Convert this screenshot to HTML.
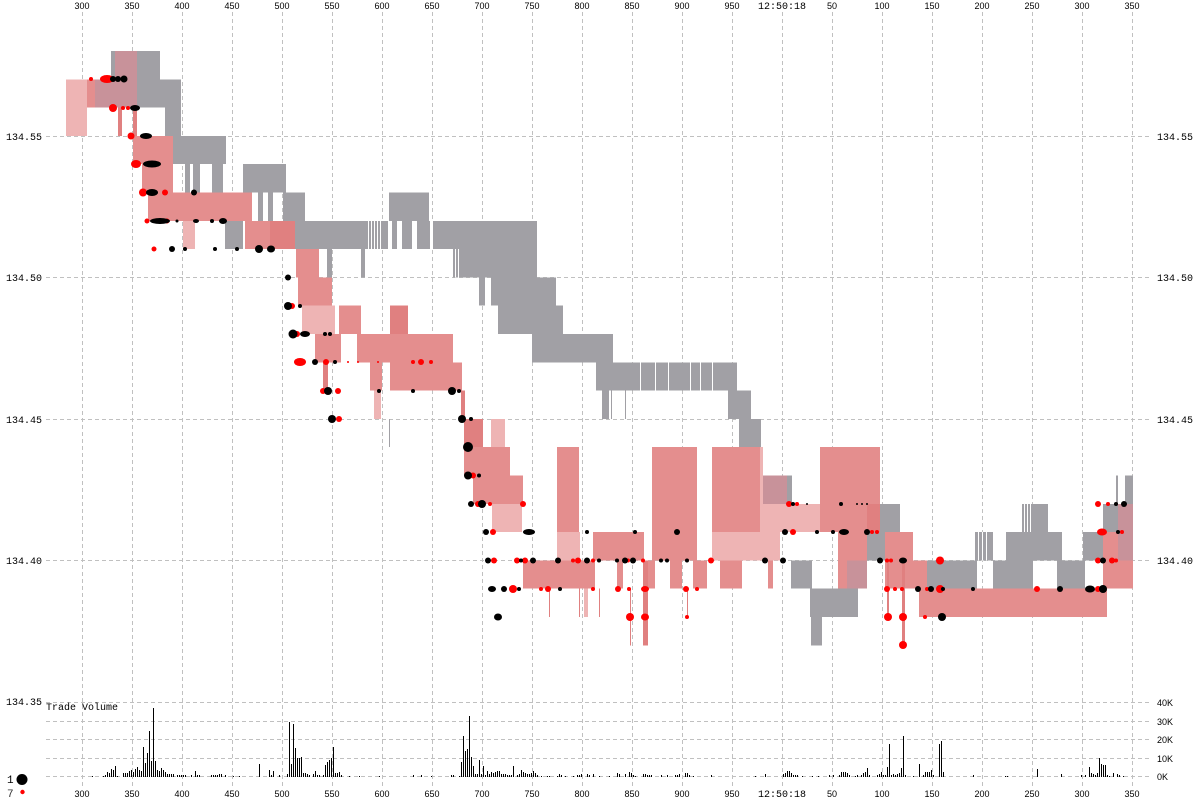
<!DOCTYPE html>
<html><head><meta charset="utf-8"><style>
html,body{margin:0;padding:0;background:#fff;}
svg{display:block;}
.t{font-family:"Liberation Sans",sans-serif;font-size:9px;fill:#000;}
.m{font-family:"Liberation Mono",monospace;font-size:10px;fill:#000;}
</style></head><body>
<svg width="1200" height="800" viewBox="0 0 1200 800" xmlns="http://www.w3.org/2000/svg">
<rect width="1200" height="800" fill="#fff"/>
<!-- grid -->
<g stroke="#c0c0c0" stroke-width="1" stroke-dasharray="4,3" shape-rendering="crispEdges">
<path d="M82.5 12V786M132.5 12V786M182.5 12V786M232.5 12V786M282.5 12V786M332.5 12V786M382.5 12V786M432.5 12V786M482.5 12V786M532.5 12V786M582.5 12V786M632.5 12V786M682.5 12V786M732.5 12V786M782.5 12V786M832.5 12V786M882.5 12V786M932.5 12V786M982.5 12V786M1032.5 12V786M1082.5 12V786M1132.5 12V786"/>
<path d="M46 136.5H1152M46 277.5H1152M46 419.5H1152M46 560.5H1152M46 702.5H1152M46 721.5H1152M46 739.5H1152M46 758.5H1152M46 776.5H1152"/>
</g>
<!-- bands -->
<g transform="translate(0,51) scale(1,28.3)" shape-rendering="crispEdges">
<g fill="#a1a0a5">
<rect x="111" y="0" width="49" height="1"/>
<rect x="95" y="1" width="86" height="1"/>
<rect x="165" y="2" width="16" height="1"/>
<rect x="173" y="3" width="53" height="1"/>
<rect x="185" y="4" width="5" height="1"/><rect x="193" y="4" width="7" height="1"/><rect x="212" y="4" width="11" height="1"/><rect x="243" y="4" width="43" height="1"/>
<rect x="258" y="5" width="5" height="1"/><rect x="268" y="5" width="5" height="1"/><rect x="283" y="5" width="22" height="1"/><rect x="389" y="5" width="40" height="1"/>
<rect x="225" y="6" width="18" height="1"/><rect x="295" y="6" width="242" height="1"/>
<rect x="327" y="7" width="5" height="1"/><rect x="361" y="7" width="4" height="1"/><rect x="453" y="7" width="84" height="1"/>
<rect x="479" y="8" width="6" height="1"/><rect x="491" y="8" width="65" height="1"/>
<rect x="498" y="9" width="65" height="1"/>
<rect x="532" y="10" width="81" height="1"/>
<rect x="596" y="11" width="141" height="1"/>
<rect x="602" y="12" width="7" height="1"/><rect x="611" y="12" width="1" height="1"/><rect x="625" y="12" width="1" height="1"/><rect x="728" y="12" width="23" height="1"/>
<rect x="739" y="13" width="22" height="1"/><rect x="389" y="13" width="1" height="1"/>
<rect x="745" y="14" width="5" height="1"/>
<rect x="762" y="15" width="30" height="1"/><rect x="1116" y="15" width="2" height="1"/><rect x="1125" y="15" width="8" height="1"/>
<rect x="878" y="16" width="22" height="2"/><rect x="1022" y="16" width="26" height="1"/><rect x="1103" y="16" width="30" height="2"/>
<rect x="865" y="17" width="13" height="1"/><rect x="975" y="17" width="18" height="1"/><rect x="1006" y="17" width="56" height="1"/><rect x="1083" y="17" width="20" height="1"/>
<rect x="791" y="18" width="21" height="1"/><rect x="847" y="18" width="20" height="1"/><rect x="927" y="18" width="50" height="1"/><rect x="993" y="18" width="40" height="1"/><rect x="1057" y="18" width="28" height="1"/>
<rect x="810" y="19" width="48" height="1"/>
<rect x="811" y="20" width="11" height="1"/>
</g>
<g fill="#fff">
<rect x="388" y="6" width="4" height="1"/><rect x="397" y="6" width="5" height="1"/><rect x="412" y="6" width="5" height="1"/><rect x="430" y="6" width="3" height="1"/>
<rect x="368" y="6" width="1" height="1"/><rect x="371" y="6" width="1" height="1"/><rect x="374" y="6" width="1" height="1"/><rect x="377" y="6" width="1" height="1"/><rect x="380" y="6" width="1" height="1"/>
<rect x="455" y="7" width="1" height="1"/><rect x="458" y="7" width="1" height="1"/>
<rect x="640" y="11" width="1" height="1"/><rect x="655" y="11" width="1" height="1"/><rect x="668" y="11" width="1" height="1"/><rect x="690" y="11" width="1" height="1"/><rect x="700" y="11" width="1" height="1"/><rect x="712" y="11" width="1" height="1"/>
<rect x="1024" y="16" width="1" height="1"/><rect x="1027" y="16" width="1" height="1"/><rect x="1030" y="16" width="1" height="1"/>
<rect x="978" y="17" width="1" height="1"/><rect x="982" y="17" width="1" height="1"/><rect x="986" y="17" width="1" height="1"/>
</g>
<!-- red over gray blend -->
<g fill="#c8929a">
<rect x="115" y="0" width="22" height="1"/>
<rect x="95" y="1" width="42" height="1"/>
<rect x="763" y="15" width="24" height="1"/>
<rect x="1118" y="16" width="15" height="2"/>
<rect x="847" y="18" width="20" height="1"/>
</g>
<!-- dense red (2 of 3 stripes) -->
<g fill="#e48e8e">
<rect x="87" y="1" width="8" height="1"/>
<rect x="133" y="3" width="40" height="1"/>
<rect x="142" y="4" width="31" height="1"/>
<rect x="148" y="5" width="104" height="1"/>
<rect x="245" y="6" width="25" height="1"/>
<rect x="296" y="7" width="23" height="1"/>
<rect x="298" y="8" width="34" height="1"/>
<rect x="339" y="9" width="22" height="1"/>
<rect x="315" y="10" width="26" height="1"/><rect x="357" y="10" width="96" height="1"/>
<rect x="370" y="11" width="12" height="1"/><rect x="390" y="11" width="72" height="1"/>
<rect x="464" y="14" width="46" height="1"/>
<rect x="557" y="14" width="22" height="3"/>
<rect x="652" y="14" width="45" height="4"/>
<rect x="712" y="14" width="51" height="3"/>
<rect x="820" y="14" width="60" height="3"/>
<rect x="473" y="15" width="50" height="1"/>
<rect x="1118" y="18" width="15" height="1"/>
<rect x="593" y="17" width="51" height="1"/>
<rect x="838" y="17" width="29" height="1"/><rect x="838" y="18" width="9" height="1"/>
<rect x="885" y="17" width="28" height="1"/>
<rect x="1103" y="17" width="15" height="2"/>
<rect x="523" y="18" width="72" height="1"/>
<rect x="617" y="18" width="6" height="1"/><rect x="643" y="18" width="12" height="1"/><rect x="670" y="18" width="12" height="1"/><rect x="693" y="18" width="14" height="1"/><rect x="720" y="18" width="22" height="1"/><rect x="768" y="18" width="5" height="1"/>
<rect x="885" y="18" width="42" height="1"/>
<rect x="919" y="19" width="188" height="1"/>
</g>
<!-- light red (1 of 2 stripes) -->
<g fill="#eeb4b4">
<rect x="66" y="1" width="21" height="2"/>
<rect x="183" y="6" width="12" height="1"/>
<rect x="302" y="9" width="33" height="1"/>
<rect x="374" y="12" width="7" height="1"/>
<rect x="491" y="13" width="14" height="1"/>
<rect x="760" y="14" width="3" height="3"/>
<rect x="492" y="16" width="30" height="1"/>
<rect x="763" y="16" width="57" height="1"/>
<rect x="557" y="17" width="23" height="1"/>
<rect x="712" y="17" width="68" height="1"/>
<rect x="584" y="19" width="4" height="1"/>
</g>
<g fill="#e08080">
<rect x="118" y="2" width="4" height="1"/><rect x="133" y="2" width="4" height="1"/>
<rect x="270" y="6" width="25" height="1"/>
<rect x="390" y="9" width="18" height="1"/>
<rect x="323" y="11" width="5" height="1"/>
<rect x="461" y="12" width="4" height="1"/>
<rect x="464" y="13" width="19" height="1"/>
<rect x="867" y="16" width="13" height="1"/>
<rect x="549" y="19" width="1" height="1"/><rect x="579" y="19" width="1" height="1"/><rect x="599" y="19" width="1" height="1"/><rect x="687" y="19" width="1" height="1"/>
<rect x="630" y="19" width="1" height="2"/>
<rect x="643" y="18" width="5" height="3"/>
<rect x="887" y="18" width="2" height="2"/>
<rect x="902" y="18" width="3" height="3"/>
</g>
</g>
<!-- dots -->
<g fill="#ff0000">
<circle cx="91" cy="79" r="2"/><ellipse cx="107" cy="79" rx="7" ry="4"/>
<circle cx="113" cy="108" r="4"/><circle cx="123" cy="108" r="2"/><circle cx="128" cy="108" r="2"/>
<circle cx="131" cy="136" r="3.5"/>
<ellipse cx="136" cy="164" rx="5" ry="4"/>
<circle cx="143" cy="192.5" r="4"/><circle cx="165" cy="192.5" r="3"/>
<circle cx="147" cy="221" r="2.5"/><circle cx="167" cy="221" r="2.5"/>
<circle cx="154" cy="249" r="2.5"/>
<circle cx="292" cy="306" r="3"/><circle cx="297" cy="334" r="3"/>
<ellipse cx="300" cy="362" rx="6" ry="4"/><circle cx="326" cy="362" r="3"/><circle cx="348" cy="362" r="1"/><circle cx="358" cy="362" r="1"/><circle cx="378" cy="362" r="1"/><circle cx="413" cy="362" r="2"/><circle cx="421" cy="362" r="3"/><circle cx="431" cy="362" r="2"/>
<circle cx="323" cy="391" r="3"/><circle cx="338" cy="391" r="3"/>
<circle cx="339" cy="419" r="3"/>
<circle cx="473" cy="475.5" r="3"/>
<circle cx="478" cy="504" r="3"/><circle cx="490" cy="504" r="2"/><circle cx="523" cy="504" r="3"/><circle cx="789" cy="504" r="3"/><circle cx="797" cy="504" r="2"/><circle cx="1098" cy="504" r="3"/><circle cx="1108" cy="504" r="2"/>
<circle cx="493" cy="532" r="3"/><circle cx="793" cy="532" r="3"/><circle cx="872" cy="532" r="2"/><circle cx="877" cy="532" r="2"/><ellipse cx="1102" cy="532" rx="5" ry="3.5"/><circle cx="1122" cy="532" r="2"/>
<circle cx="494" cy="560.5" r="3"/><circle cx="517" cy="560.5" r="3"/><circle cx="525" cy="560.5" r="3"/><circle cx="573" cy="560.5" r="2"/><circle cx="578" cy="560.5" r="3"/><circle cx="593" cy="560.5" r="2"/><circle cx="628" cy="560.5" r="2"/><circle cx="643" cy="560.5" r="2"/><circle cx="711" cy="560.5" r="3"/><circle cx="887" cy="560.5" r="2"/><circle cx="891" cy="560.5" r="2"/><circle cx="940" cy="560.5" r="4"/><circle cx="1098" cy="560.5" r="3"/><circle cx="1112" cy="560.5" r="3"/><circle cx="1116" cy="560.5" r="2"/>
<circle cx="513" cy="589" r="4"/><circle cx="541" cy="589" r="2"/><circle cx="548" cy="589" r="3"/><circle cx="593" cy="589" r="2"/><circle cx="618" cy="589" r="3"/><circle cx="629" cy="589" r="2"/><ellipse cx="645" cy="589" rx="4" ry="3"/><circle cx="686" cy="589" r="3"/><circle cx="697" cy="589" r="2"/><circle cx="887" cy="589" r="3"/><circle cx="895" cy="589" r="2"/><circle cx="902" cy="589" r="2"/><circle cx="927" cy="589" r="2"/><circle cx="940" cy="589" r="4"/><circle cx="1037" cy="589" r="3"/><circle cx="1098" cy="589" r="3"/>
<circle cx="630" cy="617" r="4"/><ellipse cx="645" cy="617" rx="4" ry="3.5"/><circle cx="687" cy="617" r="2"/><circle cx="888" cy="617" r="4"/><circle cx="903" cy="617" r="4"/><circle cx="925" cy="617" r="2"/>
<circle cx="903" cy="645" r="4"/>
</g>
<g fill="#000">
<circle cx="113" cy="79" r="3"/><circle cx="118" cy="79" r="3"/><circle cx="124" cy="79" r="3.5"/>
<ellipse cx="135" cy="108" rx="5" ry="3"/>
<ellipse cx="146" cy="136" rx="6" ry="3"/>
<ellipse cx="152" cy="164" rx="9" ry="3.5"/>
<ellipse cx="152" cy="192.5" rx="6" ry="3.5"/><circle cx="194" cy="192.5" r="3"/>
<ellipse cx="160" cy="221" rx="10" ry="3"/><circle cx="177" cy="221" r="1.5"/><ellipse cx="196" cy="221" rx="3" ry="2"/><circle cx="212" cy="221" r="2"/><ellipse cx="223" cy="221" rx="4" ry="3"/>
<circle cx="172" cy="249" r="3"/><circle cx="185" cy="249" r="2"/><circle cx="215" cy="249" r="2"/><circle cx="237" cy="249" r="2"/><circle cx="259" cy="249" r="4"/><ellipse cx="271" cy="249" rx="4" ry="3.5"/>
<circle cx="288" cy="277.5" r="3"/>
<circle cx="288" cy="306" r="4"/><circle cx="300" cy="306" r="2"/>
<circle cx="293" cy="334" r="4.5"/><ellipse cx="305" cy="334" rx="5" ry="3"/><circle cx="325" cy="334" r="2"/><circle cx="330" cy="334" r="2"/>
<circle cx="315" cy="362" r="3"/><circle cx="335" cy="362" r="2"/>
<circle cx="328" cy="391" r="4"/><circle cx="379" cy="391" r="2"/><circle cx="413" cy="391" r="2"/><circle cx="452" cy="391" r="4"/><circle cx="459" cy="391" r="2"/>
<circle cx="332" cy="419" r="4"/><circle cx="462" cy="419" r="4"/><circle cx="471" cy="419" r="2"/>
<circle cx="468" cy="447" r="5"/>
<circle cx="468" cy="475.5" r="4"/><circle cx="479" cy="475.5" r="2"/>
<circle cx="471" cy="504" r="3"/><circle cx="482" cy="504" r="4"/><circle cx="793" cy="504" r="2"/><circle cx="807" cy="504" r="1"/><circle cx="841" cy="504" r="2"/><circle cx="857" cy="504" r="1"/><circle cx="862" cy="504" r="1"/><circle cx="867" cy="504" r="1"/><circle cx="1116" cy="504" r="2"/><circle cx="1124" cy="504" r="3"/>
<circle cx="486" cy="532" r="3"/><ellipse cx="529" cy="532" rx="6" ry="3"/><circle cx="587" cy="532" r="2"/><circle cx="635" cy="532" r="2"/><circle cx="677" cy="532" r="3"/><circle cx="785" cy="532" r="3"/><circle cx="817" cy="532" r="2"/><circle cx="833" cy="532" r="2"/><ellipse cx="844" cy="532" rx="5" ry="3"/><circle cx="867" cy="532" r="3"/><circle cx="1118" cy="532" r="2"/>
<circle cx="488" cy="560.5" r="3"/><circle cx="521" cy="560.5" r="2"/><circle cx="533" cy="560.5" r="3"/><circle cx="558" cy="560.5" r="3"/><circle cx="587" cy="560.5" r="3"/><circle cx="599" cy="560.5" r="2"/><circle cx="617" cy="560.5" r="2"/><circle cx="625" cy="560.5" r="3"/><circle cx="633" cy="560.5" r="3"/><circle cx="661" cy="560.5" r="2"/><circle cx="667" cy="560.5" r="2"/><circle cx="687" cy="560.5" r="2"/><circle cx="765" cy="560.5" r="3"/><circle cx="783" cy="560.5" r="3"/><circle cx="880" cy="560.5" r="3"/><ellipse cx="903" cy="560.5" rx="4" ry="3"/><circle cx="1103" cy="560.5" r="3"/>
<ellipse cx="492" cy="589" rx="4" ry="3"/><circle cx="504" cy="589" r="3"/><circle cx="519" cy="589" r="2"/><circle cx="560" cy="589" r="2"/><circle cx="918" cy="589" r="3"/><circle cx="931" cy="589" r="3"/><circle cx="943" cy="589" r="2"/><circle cx="973" cy="589" r="2"/><circle cx="1060" cy="589" r="3"/><ellipse cx="1090" cy="589" rx="5" ry="3.5"/><circle cx="1103" cy="589" r="4"/>
<ellipse cx="498" cy="617" rx="4" ry="3.5"/><circle cx="942" cy="617" r="4"/>
</g>
<!-- volume -->
<path stroke="#000" stroke-width="1" fill="none" shape-rendering="crispEdges" d="M92.5 777V776M103.5 777V776M105.5 777V775M107.5 777V772M109.5 777V773M111.5 777V769M113.5 777V770M115.5 777V766M117.5 777V776M123.5 777V773M125.5 777V773M127.5 777V773M129.5 777V771M131.5 777V770M133.5 777V772M135.5 777V769M137.5 777V767M139.5 777V770M141.5 777V771M143.5 777V747M145.5 777V763M147.5 777V753M149.5 777V731M151.5 777V761M153.5 777V708M155.5 777V761M157.5 777V770M159.5 777V771M161.5 777V768M163.5 777V770M165.5 777V772M167.5 777V774M169.5 777V774M171.5 777V774M173.5 777V774M177.5 777V775M179.5 777V775M181.5 777V775M183.5 777V775M185.5 777V775M191.5 777V775M195.5 777V771M197.5 777V775M199.5 777V775M211.5 777V775M213.5 777V775M215.5 777V775M217.5 777V775M219.5 777V774M221.5 777V774M225.5 777V775M233.5 777V776M239.5 777V776M259.5 777V764M269.5 777V770M271.5 777V775M273.5 777V771M279.5 777V775M287.5 777V774M289.5 777V722M291.5 777V764M293.5 777V724M295.5 777V748M297.5 777V758M299.5 777V758M301.5 777V757M303.5 777V773M305.5 777V773M307.5 777V774M309.5 777V775M313.5 777V774M315.5 777V771M317.5 777V775M319.5 777V775M323.5 777V775M325.5 777V765M327.5 777V762M329.5 777V760M331.5 777V758M333.5 777V747M335.5 777V773M337.5 777V773M339.5 777V772M341.5 777V775M349.5 777V776M359.5 777V776M379.5 777V776M413.5 777V775M421.5 777V775M431.5 777V776M451.5 777V775M453.5 777V775M459.5 777V776M461.5 777V762M463.5 777V736M465.5 777V751M467.5 777V749M469.5 777V716M471.5 777V757M473.5 777V766M475.5 777V774M477.5 777V774M479.5 777V760M481.5 777V774M483.5 777V766M485.5 777V775M487.5 777V771M489.5 777V774M491.5 777V772M493.5 777V773M495.5 777V772M497.5 777V771M499.5 777V771M501.5 777V774M503.5 777V774M505.5 777V774M507.5 777V775M509.5 777V775M511.5 777V775M513.5 777V766M517.5 777V775M519.5 777V774M521.5 777V770M523.5 777V772M525.5 777V773M527.5 777V774M529.5 777V774M531.5 777V773M533.5 777V771M535.5 777V773M537.5 777V775M541.5 777V776M547.5 777V776M549.5 777V776M557.5 777V776M559.5 777V774M561.5 777V775M565.5 777V776M573.5 777V776M577.5 777V775M579.5 777V775M581.5 777V774M587.5 777V774M589.5 777V775M593.5 777V774M599.5 777V776M609.5 777V776M617.5 777V773M619.5 777V774M625.5 777V774M629.5 777V772M631.5 777V773M633.5 777V775M635.5 777V776M643.5 777V774M645.5 777V774M647.5 777V775M649.5 777V775M651.5 777V775M661.5 777V775M667.5 777V775M675.5 777V775M677.5 777V775M679.5 777V774M685.5 777V773M687.5 777V773M689.5 777V775M693.5 777V776M711.5 777V775M755.5 777V776M765.5 777V774M783.5 777V774M785.5 777V773M787.5 777V771M789.5 777V771M791.5 777V773M793.5 777V775M795.5 777V775M797.5 777V775M802.5 777V776M812.5 777V776M818.5 777V776M829.5 777V775M833.5 777V775M839.5 777V775M841.5 777V772M843.5 777V772M845.5 777V772M847.5 777V773M849.5 777V775M855.5 777V776M857.5 777V775M861.5 777V775M863.5 777V773M865.5 777V772M867.5 777V768M869.5 777V775M877.5 777V775M879.5 777V774M881.5 777V772M883.5 777V775M885.5 777V775M887.5 777V767M889.5 777V744M891.5 777V775M893.5 777V774M895.5 777V775M897.5 777V774M899.5 777V773M901.5 777V768M903.5 777V736M905.5 777V775M913.5 777V776M919.5 777V764M923.5 777V775M925.5 777V772M927.5 777V772M929.5 777V772M931.5 777V770M933.5 777V775M939.5 777V744M941.5 777V741M943.5 777V772M973.5 777V775M1005.5 777V776M1007.5 777V776M1037.5 777V769M1061.5 777V774M1081.5 777V775M1085.5 777V775M1089.5 777V767M1091.5 777V773M1093.5 777V774M1095.5 777V775M1097.5 777V773M1099.5 777V758M1101.5 777V764M1103.5 777V765M1105.5 777V765M1107.5 777V775M1109.5 777V776M1113.5 777V773M1117.5 777V774M1119.5 777V775M1123.5 777V776"/>
<!-- top labels -->
<g class="t" text-anchor="middle">
<text x="82" y="9">300</text><text x="132" y="9">350</text><text x="182" y="9">400</text><text x="232" y="9">450</text><text x="282" y="9">500</text><text x="332" y="9">550</text><text x="382" y="9">600</text><text x="432" y="9">650</text><text x="482" y="9">700</text><text x="532" y="9">750</text><text x="582" y="9">800</text><text x="632" y="9">850</text><text x="682" y="9">900</text><text x="732" y="9">950</text><text x="832" y="9">50</text><text x="882" y="9">100</text><text x="932" y="9">150</text><text x="982" y="9">200</text><text x="1032" y="9">250</text><text x="1082" y="9">300</text><text x="1132" y="9">350</text>
<text x="82" y="797">300</text><text x="132" y="797">350</text><text x="182" y="797">400</text><text x="232" y="797">450</text><text x="282" y="797">500</text><text x="332" y="797">550</text><text x="382" y="797">600</text><text x="432" y="797">650</text><text x="482" y="797">700</text><text x="532" y="797">750</text><text x="582" y="797">800</text><text x="632" y="797">850</text><text x="682" y="797">900</text><text x="732" y="797">950</text><text x="832" y="797">50</text><text x="882" y="797">100</text><text x="932" y="797">150</text><text x="982" y="797">200</text><text x="1032" y="797">250</text><text x="1082" y="797">300</text><text x="1132" y="797">350</text>
</g>
<g class="m" text-anchor="middle"><text x="782" y="9">12:50:18</text><text x="782" y="797">12:50:18</text></g>
<!-- price labels -->
<g class="m" text-anchor="end">
<text x="42" y="140">134.55</text><text x="42" y="281">134.50</text><text x="42" y="423">134.45</text><text x="42" y="564">134.40</text><text x="42" y="705">134.35</text>
</g>
<g class="m">
<text x="1157" y="140">134.55</text><text x="1157" y="281">134.50</text><text x="1157" y="423">134.45</text><text x="1157" y="564">134.40</text>
<text x="46" y="710">Trade Volume</text>
</g>
<g class="t">
<text x="1157" y="706">40K</text><text x="1157" y="725">30K</text><text x="1157" y="743">20K</text><text x="1157" y="762">10K</text><text x="1157" y="780">0K</text>
</g>
<!-- legend -->
<text x="7" y="783" style="font-family:'Liberation Mono',monospace;font-size:11px" fill="#000">1</text>
<circle cx="22" cy="779.5" r="5.5" fill="#000"/>
<text x="7" y="797" style="font-family:'Liberation Mono',monospace;font-size:11px" fill="#333">7</text>
<circle cx="22.5" cy="792" r="2.2" fill="#ff0000"/>
</svg>
</body></html>
